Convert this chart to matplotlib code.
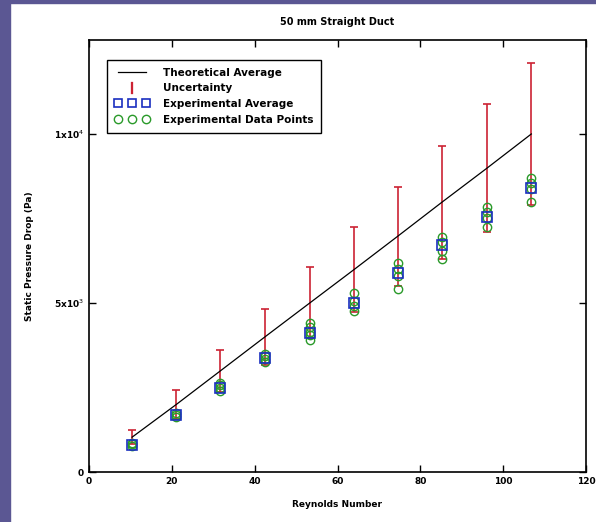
import numpy as np
import matplotlib.pyplot as plt
from matplotlib.lines import Line2D
from matplotlib.legend_handler import HandlerLine2D
from matplotlib.patches import Rectangle

# Reynolds numbers (x) and pressure drops (Pa)
reynolds = [10.4, 21.1, 31.7, 42.4, 53.3, 63.9, 74.6, 85.2, 96.1, 106.8]
theory = [1030, 2000, 2990, 3990, 5000, 5980, 6980, 7980, 8990, 10000]
uncert = [216, 420, 628, 838, 1050, 1256, 1466, 1676, 1888, 2100]
exp_avg = [800, 1690, 2490, 3370, 4110, 5000, 5890, 6720, 7540, 8400]
exp_pts = [
    [780, 820, 860],
    [1620, 1680, 1740],
    [2400, 2480, 2560, 2620],
    [3250, 3330, 3420, 3500],
    [3900, 4050, 4150, 4300, 4420],
    [4750, 4900, 5050, 5300],
    [5420, 5800, 6000, 6180],
    [6300, 6550, 6800, 6950],
    [7250, 7500, 7690, 7840],
    [7990, 8370, 8550, 8700],
]

fig = plt.figure(figsize=(5.96, 5.22), dpi=100)
fig.patch.set_facecolor('white')
fig.patches.append(Rectangle((0, 0), 10/596, 1, transform=fig.transFigure,
                             color='#5b5793', zorder=0))
fig.patches.append(Rectangle((0, 1 - 3/522), 1, 3/522, transform=fig.transFigure,
                             color='#5b5793', zorder=0))

ax = fig.add_axes([89/596, 50/522, 497/596, 432/522])

red = '#cc2233'
ax.errorbar(reynolds, theory, yerr=uncert, fmt='none', ecolor=red,
            elinewidth=1.2, capsize=3, capthick=1.2, zorder=2)
ax.plot(reynolds, theory, color='black', lw=0.9, zorder=3)
for x, pts in zip(reynolds, exp_pts):
    ax.plot([x]*len(pts), pts, 'o', mfc='none', mec='#2a9a2a', ms=6, mew=1.0, zorder=4)
ax.plot(reynolds, exp_avg, 's', mfc='none', mec='#1a2fc0', ms=7, mew=1.2, zorder=5)

ax.set_xlim(0, 120)
ax.set_ylim(0, 12780)
ax.set_xticks(range(0, 121, 20))
ax.set_yticks([0, 5000, 10000])
ax.set_yticklabels(['0', r'5x10$^3$', r'1x10$^4$'])
ax.tick_params(direction='in', top=True, right=True, length=5, width=1, labelsize=6.5)
for lab in ax.get_xticklabels() + ax.get_yticklabels():
    lab.set_fontweight('bold')
for s in ax.spines.values():
    s.set_linewidth(1.2)

ax.set_title('50 mm Straight Duct', fontsize=7, fontweight='bold', pad=11)
ax.set_xlabel('Reynolds Number', fontsize=6.5, fontweight='bold', labelpad=10)
ax.set_ylabel('Static Pressure Drop (Pa)', fontsize=6.5, fontweight='bold', labelpad=14)

h_line = Line2D([], [], color='black', lw=0.9)
h_unc = Line2D([], [], color=red, ls='none', marker='$\\mathrm{I}$', ms=9, mew=0.2)
h_avg = Line2D([], [], color='#1a2fc0', ls='none', marker='s', mfc='none', ms=6, mew=1.2)
h_pts = Line2D([], [], color='#2a9a2a', ls='none', marker='o', mfc='none', ms=6, mew=1.0)
leg = ax.legend([h_line, h_unc, h_avg, h_pts],
                ['Theoretical Average', 'Uncertainty', 'Experimental Average',
                 'Experimental Data Points'],
                loc='upper left', bbox_to_anchor=(0.036, 0.954), numpoints=3,
                handler_map={h_unc: HandlerLine2D(numpoints=1)},
                fancybox=False, edgecolor='black', framealpha=1,
                prop={'size': 7.5, 'weight': 'bold'}, handlelength=3.3,
                handletextpad=1.3, borderpad=0.75, labelspacing=0.55,
                borderaxespad=0)
leg.get_frame().set_linewidth(1.0)

plt.savefig('out.png', dpi=100)
